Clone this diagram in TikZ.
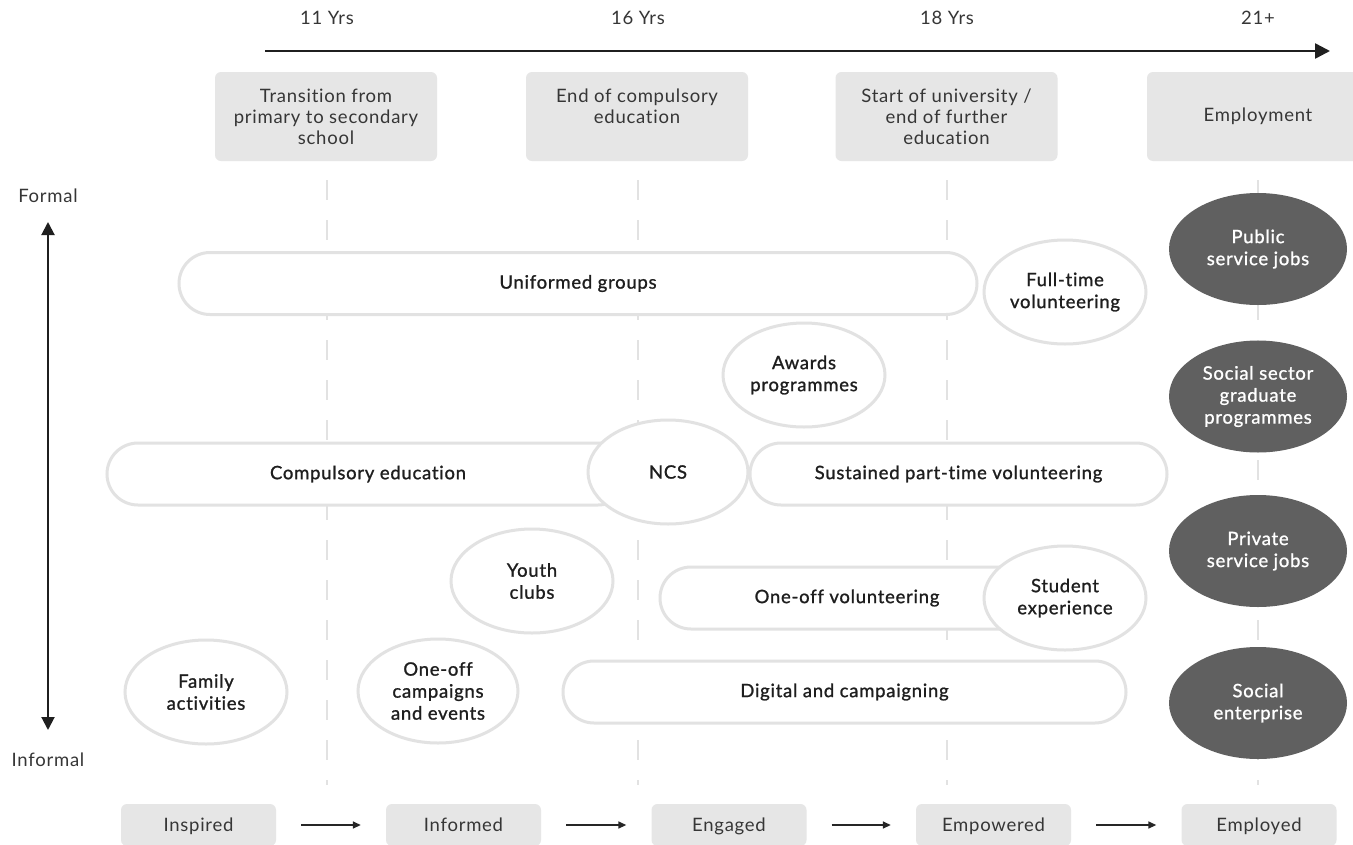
\documentclass[tikz,border=0pt]{standalone}
\usepackage{fontspec}
\setmainfont{Lato}[LetterSpace=4,Ligatures=CommonOff]
\newfontfamily\medfont{Lato}[FakeBold=1.1,LetterSpace=4,Ligatures=CommonOff]
\usetikzlibrary{arrows.meta,shapes.geometric}
\definecolor{boxgray}{HTML}{E6E6E6}
\definecolor{linegray}{HTML}{E2E2E2}
\definecolor{darkell}{HTML}{606060}
\definecolor{txt}{HTML}{363636}
\definecolor{txtdark}{HTML}{1E1E1E}
\tikzset{
  lighttext/.style={font=\fontsize{18.5}{21}\selectfont, text=txt, align=center},
  phasebox/.style={lighttext, fill=boxgray, rounded corners=6pt, minimum width=222pt, minimum height=89pt, inner sep=0pt},
  stagebox/.style={lighttext, fill=boxgray, rounded corners=6pt, minimum width=155pt, minimum height=42pt, inner sep=0pt, text height=15pt, text depth=2pt},
  medtext/.style={font=\medfont\fontsize{18.5}{22}\selectfont, text=txtdark, align=center},
  stadium/.style={medtext, draw=linegray, line width=3pt, fill=white, rounded corners=31pt, minimum height=62pt, inner sep=0pt},
  lightell/.style={medtext, ellipse, draw=linegray, line width=3pt, fill=white, minimum width=162pt, minimum height=104pt, inner sep=0pt},
  darkellipse/.style={medtext, ellipse, fill=darkell, text=white, minimum width=178pt, minimum height=112pt, inner sep=0pt},
  guide/.style={draw=linegray, line width=2.2pt, dash pattern=on 20pt off 20pt},
  stagearrow/.style={draw=black!85, line width=1.5pt, -{Triangle[length=8pt,width=7pt]}, shorten <=25pt, shorten >=25pt},
}
\begin{document}
\begin{tikzpicture}[x=1pt,y=-1pt]
\useasboundingbox (0,0) rectangle (1353,844);
\clip (0,0) rectangle (1353,844);
\fill[white] (0,0) rectangle (1353,844);

% age labels
\node[lighttext] (a11) at (327,18) {11 Yrs};
\node[lighttext] (a16) at (638,18) {16 Yrs};
\node[lighttext] (a18) at (947,18) {18 Yrs};
\node[lighttext] (a21) at (1258,18) {21+};

% timeline
\coordinate (tl0) at (265,51);
\coordinate (tl1) at (1330,51);
\draw[line width=2.5pt, draw=black!88, -{Triangle[length=15pt,width=15pt]}] (tl0) -- (tl1);

% phase boxes
\node[phasebox] (p1) at (326,116.5) {Transition from\\primary to secondary\\school};
\node[phasebox] (p2) at (637,116.5) {End of compulsory\\education\\\phantom{x}};
\node[phasebox] (p3) at (946.5,116.5) {Start of university /\\end of further\\education};
\node[phasebox] (p4) at (1258,116.5) {Employment};

% dashed guides
\foreach \x/\n in {327/g1,638/g2,947/g3,1258/g4}{
  \coordinate (\n a) at (\x,180);
  \coordinate (\n b) at (\x,785);
  \draw[guide] (\n a) -- (\n b);
}

% formal/informal axis
\node[lighttext] (formal) at (48,196) {Formal};
\node[lighttext] (informal) at (48,760) {Informal};
\coordinate (ax0) at (48,222);
\coordinate (ax1) at (48,730);
\draw[line width=2pt, draw=black!88, {Triangle[length=13pt,width=13pt]}-{Triangle[length=13pt,width=13pt]}] (ax0) -- (ax1);

% stadiums
\node[stadium, minimum width=798pt] (uni) at (578,283.5) {Uniformed groups};
\node[stadium, minimum width=522pt] (comp) at (368,474) {Compulsory education};
\node[stadium, minimum width=417pt] (sust) at (958.5,474) {Sustained part-time volunteering};
\node[stadium, minimum width=374pt] (oov) at (847,598) {One-off volunteering};
\node[stadium, minimum width=563pt] (dig) at (844.5,692) {Digital and campaigning};

% light ellipses
\node[lightell, minimum width=160pt] (ncs) at (668,472) {NCS};
\node[lightell] (ftv) at (1065,292) {Full-time\\volunteering};
\node[lightell] (awd) at (804,375) {Awards\\programmes};
\node[lightell] (yth) at (532,581) {Youth\\clubs};
\node[lightell] (fam) at (206,692) {Family\\activities};
\node[lightell, minimum width=160pt] (ooc) at (438,691) {One-off\\campaigns\\and events};
\node[lightell] (stu) at (1065,598) {Student\\experience};

% dark ellipses
\node[darkellipse] (pub) at (1258,249) {Public\\service jobs};
\node[darkellipse] (soc) at (1258,396.5) {Social sector\\graduate\\programmes};
\node[darkellipse] (prv) at (1258,551) {Private\\service jobs};
\node[darkellipse] (ent) at (1258,703) {Social\\enterprise};

% stages
\node[stagebox] (s1) at (198.5,825) {Inspired};
\node[stagebox] (s2) at (463.5,825) {Informed};
\node[stagebox] (s3) at (729,825) {Engaged};
\node[stagebox] (s4) at (993.5,825) {Empowered};
\node[stagebox] (s5) at (1259,825) {Employed};
\draw[stagearrow] (s1) -- (s2);
\draw[stagearrow] (s2) -- (s3);
\draw[stagearrow] (s3) -- (s4);
\draw[stagearrow] (s4) -- (s5);
\end{tikzpicture}
\end{document}
